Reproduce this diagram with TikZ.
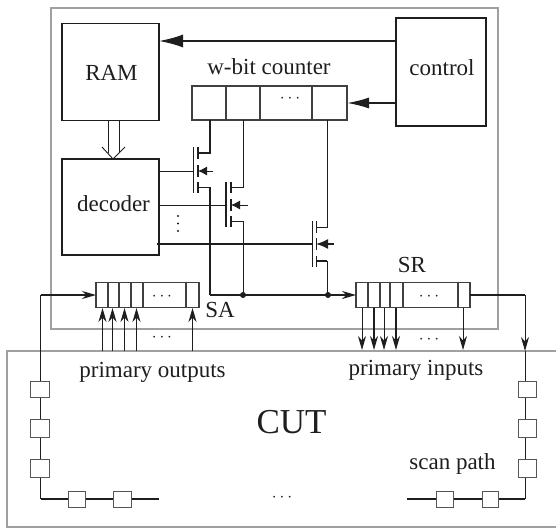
\documentclass[tikz,border=0pt]{standalone}
\usepackage{fontspec}
\setmainfont{Liberation Serif}
\usetikzlibrary{arrows.meta}
\definecolor{frame}{RGB}{160,160,160}
\definecolor{ink}{RGB}{30,30,30}
\tikzset{
 x=1pt,y=-1pt,
 every node/.style={inner sep=0pt,outer sep=0pt,text=ink},
 block/.style={draw=ink,line width=1.6pt,fill=white},
 cell/.style={draw=ink!85,line width=1.3pt},
 scanbox/.style={draw=ink!75,line width=0.9pt,fill=white},
 wire/.style={draw=ink,line width=0.9pt},
 thick wire/.style={draw=ink,line width=1.6pt},
 gray frame/.style={draw=frame,line width=1.4pt},
 big tip/.style={-{Latex[length=24pt,width=13pt]}},
 mid tip/.style={-{Latex[length=22pt,width=11pt]}},
 small tip/.style={-{Latex[length=9pt,width=9pt]}},
 open tip/.style={-{Stealth[length=14pt,width=8pt,inset=4.5pt]}},
 dotsty/.style={circle,fill=ink,minimum size=6pt},
 lab/.style={font=\fontsize{23}{23}\selectfont,anchor=base},
 dotlab/.style={font=\fontsize{17}{17}\selectfont,anchor=base},
}
\begin{document}
\begin{tikzpicture}
\useasboundingbox (0,0) rectangle (556,528);
% frames
\draw[gray frame] (51,8) rectangle (498,329);
\draw[gray frame] (556,351) -- (7,351) -- (7,527) -- (556,527);
% blocks
\node[block,minimum width=97pt,minimum height=97pt,anchor=north west] (ram) at (62,23.5) {};
\node[lab] at (111.5,80) {RAM};
\node[block,minimum width=97pt,minimum height=96pt,anchor=north west] (dec) at (62,159) {};
\node[lab] at (113.5,211) {decoder};
\node[block,minimum width=90pt,minimum height=108pt,anchor=north west] (ctl) at (396,18) {};
\node[lab] at (442,75) {control};
\node[lab] at (269,74) {w-bit counter};
% counter
\node[block,cell,minimum width=155pt,minimum height=34pt,anchor=north west] (cnt) at (192,86) {};
\foreach \x in {226,260,312}{\draw[cell] (\x,86) -- (\x,120);}
\node[dotlab] at (290,102.5) {$\cdots$};
% arrows from control
\coordinate (cr) at (396,41);\coordinate (rt) at (159,41);
\coordinate (cc) at (396,103);\coordinate (ct) at (347,103);
\draw[thick wire,big tip] (cr) -- (rt);
\draw[thick wire,mid tip] (cc) -- (ct);
% double arrow
\draw[wire] (108,120) -- (108,153) (119,120) -- (119,153);
\draw[wire] (102,147) -- (113,159) -- (125,147);
% transistor 1
\draw[thick wire] (210,120) -- (210,153) -- (198,153);
\draw[wire] (193,147) -- (193,193);
\draw[thick wire] (198,147) -- (198,159) (198,165) -- (198,177) (198,182) -- (198,193);
\draw[wire] (159,171) -- (193,171);
\draw[wire,small tip] (213,171) -- (198,171);
\draw[wire] (198,187) -- (210,187);
\draw[thick wire] (210,187) -- (210,295);
% transistor 2
\draw[wire] (243,120) -- (243,187) -- (231,187);
\draw[thick wire] (226,182) -- (226,227);
\draw[thick wire] (231,182) -- (231,193) (231,199) -- (231,211) (231,216) -- (231,227);
\draw[wire] (159,205) -- (226,205);
\draw[wire,small tip] (248,205) -- (231,205);
\draw[wire] (231,221) -- (243,221) -- (243,295);
% transistor 3
\draw[wire] (327,120) -- (327,227) -- (316,227);
\draw[wire] (312,221) -- (312,267);
\draw[wire] (316,221) -- (316,233) (316,238) -- (316,250) (316,256) -- (316,267);
\draw[thick wire] (157,244) -- (312,244);
\draw[thick wire,-{Latex[length=12pt,width=10pt]}] (334,244) -- (316,244);
\draw[thick wire] (316,261) -- (327,261);
\draw[wire] (327,261) -- (327,295);
% decoder dots
\foreach \y in {216,223.5,231}{\fill[ink] (178,\y) circle (1.2pt);}
% SA
\node[block,cell,minimum width=103pt,minimum height=25pt,anchor=north west] (sa) at (96,282.5) {};
\foreach \x in {108,119,131,143,186}{\draw[cell] (\x,282.5) -- (\x,307.5);}
\node[dotlab] at (162,300.5) {$\cdots$};
\node[lab] at (220,317) {SA};
% SR
\node[block,cell,minimum width=114pt,minimum height=25pt,anchor=north west] (sr) at (356,282.5) {};
\foreach \x in {368,380,390,403,458}{\draw[cell] (\x,282.5) -- (\x,307.5);}
\node[dotlab] at (429,300.5) {$\cdots$};
\node[lab] at (412,272) {SR};
% bus
\coordinate (bs) at (210,295);
\coordinate (lt) at (40.6,295);
\coordinate (rc) at (525,295);
\draw[thick wire,open tip] (bs) -- (sr.west);
\node[dotsty] (d1) at (243,295) {};
\node[dotsty] (d2) at (328,295) {};
% SA inputs
\foreach \x in {102.5,112.5,124.5,136.5,192.5}{\draw[wire,open tip] (\x,351) -- (\x,308);}
\node[dotlab] at (162,341.5) {$\cdots$};
% SR outputs
\foreach \x in {362,384,463}{\draw[wire,open tip] (\x,308) -- (\x,350);}
\foreach \x in {374,396}{\draw[thick wire,open tip] (\x,308) -- (\x,350);}
\node[dotlab] at (429,343.5) {$\cdots$};
% scan path left
\draw[thick wire,open tip] (lt) -- (sa.west);
\draw[wire] (lt) -- (40.6,499);
\draw[thick wire] (40.6,499) -- (159,499);
% scan path right
\draw[thick wire] (sr.east) -- (rc);
\draw[wire,open tip] (rc) -- (525,351);
\draw[wire] (525,351) -- (525,499);
\draw[thick wire] (525,499) -- (407,499);
\foreach \y/\h in {381/16,419/18,459/18}{
 \draw[scanbox] (30,\y) rectangle (49,\y+\h);
 \draw[scanbox] (518,\y) rectangle (536,\y+\h);
}
\foreach \a/\b in {68/85,113/131,436/453,482/498}{
 \draw[scanbox] (\a,491) rectangle (\b,507);
}
% labels
\node[lab] at (152.5,377) {primary outputs};
\node[lab] at (416,375) {primary inputs};
\node[lab] at (452.5,469) {scan path};
\node[lab,font=\fontsize{35}{35}\selectfont] at (291.5,433) {CUT};
\node[dotlab] at (282,501.5) {$\cdots$};
\end{tikzpicture}
\end{document}
